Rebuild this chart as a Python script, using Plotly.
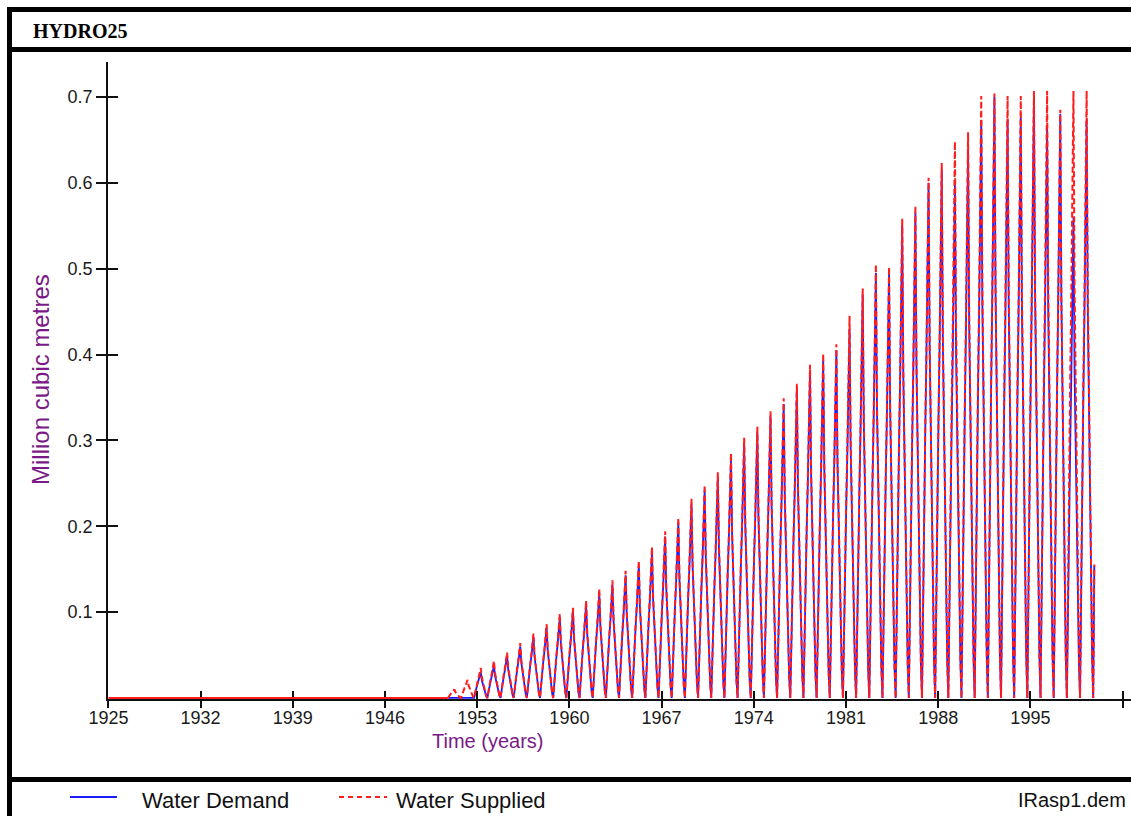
import plotly.graph_objects as go

# ---------------- data ----------------
peak_years = list(range(1951, 2001))
supplied_peaks = [0.010, 0.021, 0.035, 0.043, 0.053, 0.064, 0.075, 0.086, 0.098, 0.105,
                  0.113, 0.127, 0.137, 0.148, 0.160, 0.176, 0.194, 0.210, 0.232, 0.248,
                  0.263, 0.285, 0.303, 0.316, 0.334, 0.349, 0.366, 0.388, 0.401, 0.412,
                  0.445, 0.477, 0.505, 0.502, 0.558, 0.573, 0.606, 0.623, 0.648, 0.659,
                  0.701, 0.704, 0.701, 0.701, 0.707, 0.707, 0.685, 0.707, 0.707, 0.707]
demand_peaks = [0.000, 0.000, 0.030, 0.038, 0.049, 0.060, 0.071, 0.082, 0.094, 0.101,
                0.109, 0.122, 0.132, 0.143, 0.155, 0.170, 0.188, 0.204, 0.226, 0.242,
                0.257, 0.279, 0.296, 0.310, 0.328, 0.342, 0.359, 0.381, 0.394, 0.405,
                0.430, 0.470, 0.495, 0.495, 0.550, 0.565, 0.600, 0.615, 0.600, 0.640,
                0.673, 0.700, 0.674, 0.676, 0.700, 0.667, 0.680, 0.560, 0.674, 0.700]
# monthly shape of a year relative to its peak month (months -6 .. +5)
month_profile = [0.0, 0.22, 0.38, 0.52, 0.66, 0.84, 1.0, 0.68, 0.50, 0.34, 0.20, 0.07]
peak_phase = 0.27          # fraction of the year at which the peak month sits
record_start = 1925.0
record_end = 1999.86

x_tick_vals = [1925, 1932, 1939, 1946, 1953, 1960, 1967, 1974, 1981, 1988, 1995, 2002]
x_tick_text = ["1925", "1932", "1939", "1946", "1953", "1960", "1967", "1974", "1981",
               "1988", "1995", ""]
y_tick_vals = [0.1, 0.2, 0.3, 0.4, 0.5, 0.6, 0.7]
y_tick_text = ["0.1", "0.2", "0.3", "0.4", "0.5", "0.6", "0.7"]

title_text = "HYDRO25"
y_title = "Million cubic metres"
x_title = "Time (years)"
legend_names = ["Water Demand", "Water Supplied"]
file_label = "IRasp1.dem"

# ---------------- build monthly series ----------------
t_vals, sup_vals, dem_vals = [], [], []
for yr, sp, dp in zip(peak_years, supplied_peaks, demand_peaks):
    for k, f in enumerate(month_profile):
        t = yr + peak_phase + (k - 6) / 12.0
        if t > record_end:
            break
        t_vals.append(t)
        sup_vals.append(sp * f)
        dem_vals.append(dp * f)

BLUE = "#1c1cff"
RED = "#ff1c1c"
PURPLE = "#7a1a86"
FONT = "Liberation Sans, Arial, sans-serif"
TICK = "#111111"

W, H = 1131, 816
L, R, T, B = 108, 0, 62, 117
PW, PH = W - L - R, H - T - B


def px(x):
    return (x - L) / PW


def py(y):
    return (H - B - y) / PH


fig = go.Figure()
# supplied is zero before the record starts
fig.add_trace(go.Scatter(x=[record_start, t_vals[0]], y=[0, 0], mode="lines",
                         line=dict(color=RED, width=2), showlegend=False,
                         hoverinfo="skip"))
fig.add_trace(go.Scatter(x=t_vals, y=dem_vals, mode="lines", name=legend_names[0],
                         line=dict(color=BLUE, width=1.8)))
fig.add_trace(go.Scatter(x=t_vals, y=sup_vals, mode="lines", name=legend_names[1],
                         line=dict(color=RED, width=2, dash="6px,3px")))
# empty traces for the overlay axes that carry the full crossing tick marks
fig.add_trace(go.Scatter(x=[], y=[], xaxis="x2", yaxis="y2", showlegend=False,
                         hoverinfo="skip"))
fig.add_trace(go.Scatter(x=[], y=[], xaxis="x3", yaxis="y2", showlegend=False,
                         hoverinfo="skip"))

xr = [1924.97, 1925 + (W - 108.5) / 13.17]
yr_ = [-0.0012, 0.7407]

axis_common = dict(showgrid=False, zeroline=False, layer="below traces")
tick_font = dict(family=FONT, size=18, color="#1a1a1a")
fig.update_layout(
    width=W, height=H,
    margin=dict(l=L, r=R, t=T, b=B, pad=0),
    paper_bgcolor="white", plot_bgcolor="white",
    showlegend=False,
    xaxis=dict(range=xr, tickmode="array", tickvals=x_tick_vals, ticktext=x_tick_text,
               ticks="outside", ticklen=2, tickwidth=1.5, tickcolor=TICK,
               showline=True, linecolor=TICK, linewidth=1.5,
               tickfont=tick_font, **axis_common),
    yaxis=dict(range=yr_, tickmode="array", tickvals=y_tick_vals, ticktext=y_tick_text,
               ticks="outside", ticklen=10, tickwidth=1.5, tickcolor=TICK,
               showline=True, linecolor=TICK, linewidth=1.5,
               tickfont=tick_font, **axis_common),
    xaxis2=dict(range=xr, overlaying="x", anchor="y2", side="bottom", tickmode="array",
                tickvals=x_tick_vals, ticks="inside", ticklen=8, tickwidth=1.5,
                tickcolor=TICK, showticklabels=False, showline=False, **axis_common),
    xaxis3=dict(range=xr, overlaying="x", anchor="y2", side="bottom", tickmode="array",
                tickvals=x_tick_vals, ticks="outside", ticklen=8, tickwidth=1.5,
                tickcolor=TICK, showticklabels=False, showline=False, **axis_common),
    yaxis2=dict(range=yr_, overlaying="y", anchor="x2", side="left", tickmode="array",
                tickvals=y_tick_vals, ticks="inside", ticklen=10, tickwidth=1.5,
                tickcolor=TICK, showticklabels=False, showline=False, **axis_common),
)

# window frame
frame = [
    (7, 7, 12, H),        # left border
    (7, 7, W, 12),        # top border
    (7, 47, W, 52),       # title separator
    (7, 777, W, 782),     # legend separator
]
for x0, y0, x1, y1 in frame:
    fig.add_shape(type="rect", xref="paper", yref="paper",
                  x0=px(x0), x1=px(x1), y0=py(y1), y1=py(y0),
                  fillcolor="black", line=dict(width=0), layer="above")

# legend samples
fig.add_shape(type="line", xref="paper", yref="paper", x0=px(70), x1=px(117),
              y0=py(797), y1=py(797), line=dict(color=BLUE, width=1.8))
fig.add_shape(type="line", xref="paper", yref="paper", x0=px(339), x1=px(387),
              y0=py(797), y1=py(797), line=dict(color=RED, width=1.8, dash="5px,4px"))

ann = [
    dict(text="<b>" + title_text + "</b>", x=px(31), y=py(31), xanchor="left",
         yanchor="middle", font=dict(family="Liberation Serif, Times New Roman, serif",
                                     size=20, color="black")),
    dict(text=y_title, x=px(40), y=py(380), xanchor="center", yanchor="middle",
         textangle=-90, font=dict(family=FONT, size=24, color=PURPLE)),
    dict(text=x_title, x=px(487), y=py(741), xanchor="center", yanchor="middle",
         font=dict(family=FONT, size=20, color=PURPLE)),
    dict(text=legend_names[0], x=px(140), y=py(800), xanchor="left", yanchor="middle",
         font=dict(family=FONT, size=22, color="#111")),
    dict(text=legend_names[1], x=px(394), y=py(800), xanchor="left", yanchor="middle",
         font=dict(family=FONT, size=22, color="#111")),
    dict(text=file_label, x=px(1128), y=py(800), xanchor="right", yanchor="middle",
         font=dict(family=FONT, size=20, color="#111")),
]
for a in ann:
    fig.add_annotation(xref="paper", yref="paper", showarrow=False, **a)

fig.write_html("out.html")
